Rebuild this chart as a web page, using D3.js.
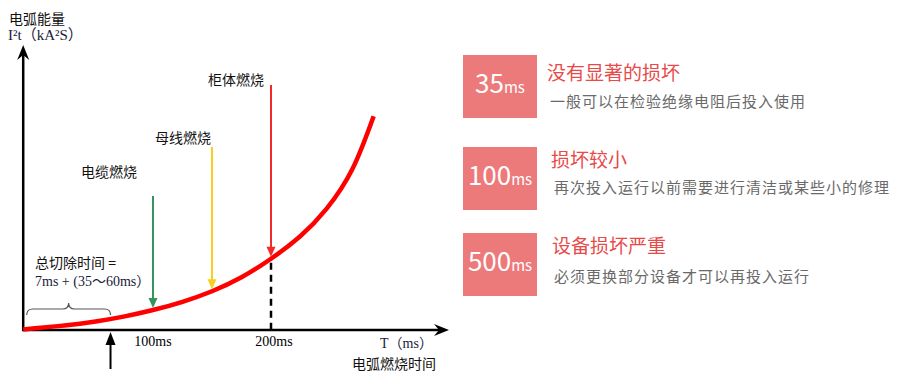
<!DOCTYPE html>
<html>
<head>
<meta charset="utf-8">
<script src="https://cdn.jsdelivr.net/npm/d3@7"></script>
<style>
body { margin: 0; background: #fff; }
svg { display: block; }
</style>
</head>
<body>
<svg width="900" height="390"></svg>
<script>
// curve: arc energy vs burning time (schematic)
const curveMs = [-10, 0, 25, 50, 75, 100, 125, 150, 175, 200, 225, 247, 269, 287];
const curveEnergy = [0.2, 0.6, 1.6, 2.9, 4.7, 7, 9.9, 13.6, 18.5, 25, 33, 42.5, 56.5, 75];

const eventNames = ["电缆燃烧", "母线燃烧", "柜体燃烧"];
const eventMs = [100, 150, 200];
const eventColors = ["#36955f", "#f7cf1c", "#f42a2a"];

const tickMs = [100, 200];
const clearSpanMs = [-7, 64];

const boxTimes = ["35", "100", "500"];
const boxTitles = ["没有显著的损坏", "损坏较小", "设备损坏严重"];
const boxDescs = [
  "一般可以在检验绝缘电阻后投入使用",
  "再次投入运行以前需要进行清洁或某些小的修理",
  "必须更换部分设备才可以再投入运行"
];

// layout
const eventTop = [196, 147, 85];
const rowTop = [55, 147, 233];
const titleY = [80, 167, 253];
const descY = [107, 193, 282];

const serif = "'Liberation Serif', 'Times New Roman', 'Noto Sans CJK SC', serif";
const sans = "'Noto Sans CJK SC', 'Noto Sans', sans-serif";

const svg = d3.select("svg");

var x = d3.scaleLinear().domain([0, 200]).range([35, 271]);
var y = d3.scaleLinear().domain([0, 100]).range([330, 45]);

const x0 = x(-10), yTop = 45, xEnd = 449, y0 = y(0);

// axes
svg.append("line")
  .attr("x1", x0).attr("y1", y0 + 1).attr("x2", x0).attr("y2", yTop + 8)
  .attr("stroke", "#000").attr("stroke-width", 2.5);
svg.append("path")
  .attr("d", `M${x0},${yTop} L${x0 - 6},${yTop + 15} L${x0},${yTop + 10} L${x0 + 6},${yTop + 15} Z`)
  .attr("fill", "#000");
svg.append("line")
  .attr("x1", x0 - 1).attr("y1", y0).attr("x2", xEnd - 8).attr("y2", y0)
  .attr("stroke", "#000").attr("stroke-width", 2.5);
svg.append("path")
  .attr("d", `M${xEnd},${y0} L${xEnd - 15},${y0 - 6} L${xEnd - 10},${y0} L${xEnd - 15},${y0 + 6} Z`)
  .attr("fill", "#000");

const curveAt = ms => curveEnergy[curveMs.indexOf(ms)];

// dashed line under 200ms point
svg.append("line")
  .attr("x1", x(200)).attr("x2", x(200))
  .attr("y1", y(curveAt(200)) + 4).attr("y2", y0 - 1)
  .attr("stroke", "#000").attr("stroke-width", 2.5)
  .attr("stroke-dasharray", "7,5");

// the curve
const pts = curveMs.map((d, i) => [d, curveEnergy[i]]);
svg.append("path")
  .datum(pts)
  .attr("d", d3.line().x(d => x(d[0])).y(d => y(d[1])).curve(d3.curveNatural))
  .attr("fill", "none")
  .attr("stroke", "#ff0000")
  .attr("stroke-width", 4.5);

// event arrows
eventMs.forEach((ms, i) => {
  const cx = x(ms);
  const tip = y(curveAt(ms)) - 2;
  svg.append("line")
    .attr("x1", cx).attr("x2", cx)
    .attr("y1", eventTop[i]).attr("y2", tip - 8)
    .attr("stroke", eventColors[i]).attr("stroke-width", 2);
  svg.append("path")
    .attr("d", `M${cx},${tip} L${cx - 4.5},${tip - 10} L${cx + 4.5},${tip - 10} Z`)
    .attr("fill", eventColors[i]);
});

// event labels
svg.selectAll(".evlabel")
  .data(eventNames)
  .join("text")
  .attr("class", "evlabel")
  .attr("x", (d, i) => x(eventMs[i]) - [72, 57, 63][i])
  .attr("y", (d, i) => eventTop[i] - [19, 4, 0][i])
  .attr("font-family", sans)
  .attr("font-size", 14)
  .attr("fill", "#111")
  .text(d => d);

// tick labels
svg.selectAll(".tick")
  .data(tickMs)
  .join("text")
  .attr("class", "tick")
  .attr("x", d => x(d) + (d === 200 ? 3 : 0))
  .attr("y", 346)
  .attr("text-anchor", "middle")
  .attr("font-family", serif)
  .attr("font-size", 14)
  .attr("fill", "#000")
  .text(d => d + "ms");

// brace for total clearing time
const bx1 = x(clearSpanMs[0]), bx2 = x(clearSpanMs[1]), bm = (bx1 + bx2) / 2;
svg.append("path")
  .attr("d", `M${bx1},315 Q${bx1},309 ${bx1 + 6},309 L${bm - 6},309 Q${bm},309 ${bm},303
              Q${bm},309 ${bm + 6},309 L${bx2 - 6},309 Q${bx2},309 ${bx2},315`)
  .attr("fill", "none")
  .attr("stroke", "#555")
  .attr("stroke-width", 1.2);

// black upward arrow
svg.append("line")
  .attr("x1", bx2).attr("x2", bx2).attr("y1", 369).attr("y2", 342)
  .attr("stroke", "#000").attr("stroke-width", 2);
svg.append("path")
  .attr("d", `M${bx2},332 L${bx2 - 5},345 L${bx2 + 5},345 Z`)
  .attr("fill", "#000");

svg.append("text")
  .attr("x", 35).attr("y", 268)
  .attr("font-family", sans).attr("font-size", 14).attr("fill", "#111")
  .text("总切除时间 =");
svg.append("text")
  .attr("x", 35).attr("y", 286)
  .attr("font-family", serif).attr("font-size", 14).attr("fill", "#1a1a3a")
  .text("7ms + (35～60ms）");

// axis titles
svg.append("text")
  .attr("x", 9).attr("y", 24)
  .attr("font-family", sans).attr("font-size", 14).attr("fill", "#111")
  .text("电弧能量");
svg.append("text")
  .attr("x", 8).attr("y", 40)
  .attr("font-family", serif).attr("font-size", 15).attr("fill", "#1a1a3a")
  .text("I²t（kA²S）");
svg.append("text")
  .attr("x", 380).attr("y", 348)
  .attr("font-family", serif).attr("font-size", 14).attr("fill", "#1a1a3a")
  .text("T（ms）");
svg.append("text")
  .attr("x", 352).attr("y", 369)
  .attr("font-family", sans).attr("font-size", 14).attr("fill", "#111")
  .text("电弧燃烧时间");

// right panel
const rows = svg.selectAll(".row")
  .data(boxTimes)
  .join("g")
  .attr("class", "row");

rows.append("rect")
  .attr("x", 463)
  .attr("y", (d, i) => rowTop[i])
  .attr("width", 74)
  .attr("height", 63)
  .attr("fill", "#ed7a7a");

const num = rows.append("text")
  .attr("x", 500)
  .attr("y", (d, i) => rowTop[i] + 38)
  .attr("text-anchor", "middle")
  .attr("font-family", sans)
  .attr("fill", "#fff");
num.append("tspan").attr("font-size", 26).text(d => d);
num.append("tspan").attr("font-size", 15).text("ms");

rows.append("text")
  .attr("x", (d, i) => [547, 551, 552][i])
  .attr("y", (d, i) => titleY[i])
  .attr("font-family", sans)
  .attr("font-size", 19)
  .attr("fill", "#e84a4a")
  .text((d, i) => boxTitles[i]);

rows.append("text")
  .attr("x", (d, i) => [550, 554, 554][i])
  .attr("y", (d, i) => descY[i])
  .attr("font-family", sans)
  .attr("font-size", 15)
  .attr("letter-spacing", 1)
  .attr("fill", "#6a6a6a")
  .text((d, i) => boxDescs[i]);
</script>
</body>
</html>
